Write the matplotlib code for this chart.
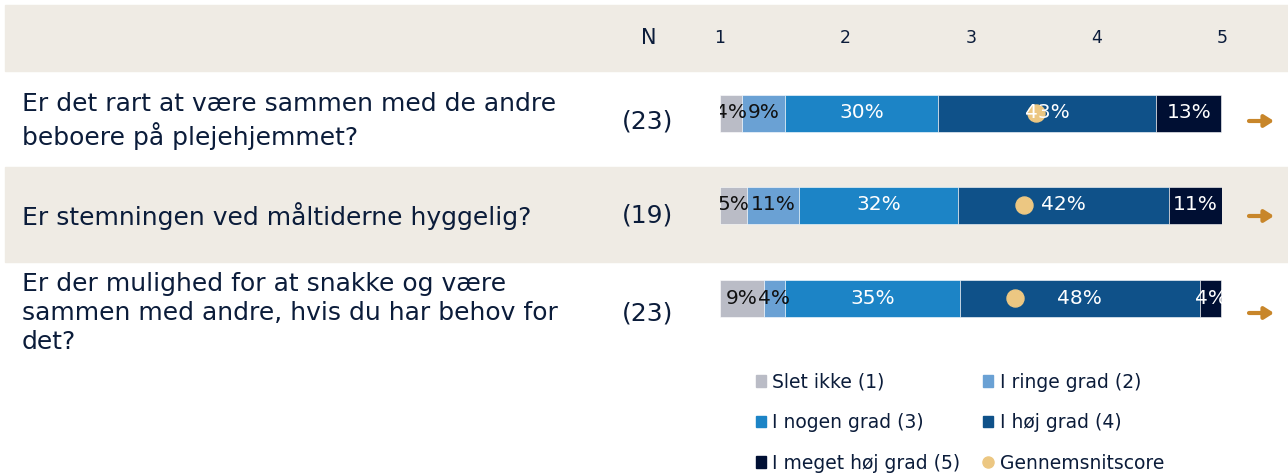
##trivsel - stacked bars with mean score
import numpy as np
import matplotlib.pyplot as plt
from matplotlib.patches import Patch
from matplotlib.lines import Line2D

plt.rcParams['font.family'] = ['DejaVu Sans']

##data
questions = ['Er det rart at være sammen med de andre\nbeboere på plejehjemmet?',
             'Er stemningen ved måltiderne hyggelig?',
             'Er der mulighed for at snakke og være\nsammen med andre, hvis du har behov for\ndet?']
n_resp = [23, 19, 23]
categories = ['Slet ikke (1)', 'I ringe grad (2)', 'I nogen grad (3)', 'I høj grad (4)', 'I meget høj grad (5)']
#percent per answer category, one list per question
pct = [[4.3, 8.7, 30.4, 43.5, 13.0],
       [5.3, 10.5, 31.6, 42.1, 10.5],
       [8.7, 4.3, 34.8, 47.8, 4.3]]
pct_labels = [['4%', '9%', '30%', '43%', '13%'],
              ['5%', '11%', '32%', '42%', '11%'],
              ['9%', '4%', '35%', '48%', '4%']]
mean_score = [3.52, 3.42, 3.35]
scale_ticks = [1, 2, 3, 4, 5]

colors = ['#babcc6', '#6aa1d4', '#1c84c6', '#0f5189', '#000f33']
txtcol = ['#111111', '#111111', 'white', 'white', 'white']
dotcol = '#ecc782'
navy = '#0b1c3a'
beige = '#efebe4'
arrowcol = '#c8862a'

W, H = 1288, 476
fig = plt.figure(figsize=(W/100, H/100), dpi=100)

##background axes in pixel units for bands and texts
bg = fig.add_axes([0, 0, 1, 1])
bg.set_xlim(0, W)
bg.set_ylim(H, 0)
bg.axis('off')
bg.axhspan(5, 71, xmin=5/W, xmax=1, color=beige, zorder=0)
bg.axhspan(167, 262, xmin=5/W, xmax=1, color=beige, zorder=0)

text_y = [121, 216, 313]
bar_y = [113, 205, 298]
bg.text(649, 38, 'N', fontsize=15, color=navy, ha='center', va='center')
for i, q in enumerate(questions):
    bg.text(22, text_y[i], q, fontsize=18, color=navy, ha='left', va='center', linespacing=1.27)
    bg.text(648, text_y[i], '(%d)' % n_resp[i], fontsize=18, color=navy, ha='center', va='center')
    bg.annotate('', xy=(1274, text_y[i]), xytext=(1249, text_y[i]),
                arrowprops=dict(arrowstyle='-|>,head_length=0.55,head_width=0.35', color=arrowcol, lw=3,
                                shrinkA=0, shrinkB=0))

##bar axes, x in score units 1..5
ax = fig.add_axes([720/W, 0, 502/W, 1])
ax.set_xlim(1, 5)
ax.set_ylim(H, 0)
ax.axis('off')
for t in scale_ticks:
    ax.text(t, 38, str(t), fontsize=12.5, color=navy, ha='center', va='center')

p = np.array(pct)
span = scale_ticks[-1] - scale_ticks[0]
widths = p / 100 * span
lefts = scale_ticks[0] + np.cumsum(widths, axis=1) - widths
for j in range(len(categories)):
    ax.barh(bar_y, widths[:, j], left=lefts[:, j], height=37, color=colors[j],
            edgecolor='white', linewidth=0.4, label=categories[j], zorder=2)
    for i in range(len(questions)):
        ax.text(lefts[i, j] + widths[i, j]/2, bar_y[i], pct_labels[i][j], fontsize=14.5,
                color=txtcol[j], ha='center', va='center', zorder=4, clip_on=True)
ax.scatter(mean_score, bar_y, s=150, color=dotcol, zorder=3)

##legend, filled by column so reorder
h = [Patch(color=c) for c in colors]
dot = Line2D([], [], marker='o', ls='none', color=dotcol, markersize=8)
handles = [h[0], h[2], h[4], h[1], h[3], dot]
labels = [categories[0], categories[2], categories[4], categories[1], categories[3], 'Gennemsnitscore']
bg.legend(handles, labels, ncol=2, frameon=False, fontsize=13.5, labelcolor=navy,
          loc='upper left', bbox_to_anchor=(748/W, 1 - 365/H), handlelength=0.55, handleheight=0.55,
          handletextpad=0.35, columnspacing=1.2, labelspacing=1.15, borderaxespad=0)

fig.savefig('out.png', dpi=100)
